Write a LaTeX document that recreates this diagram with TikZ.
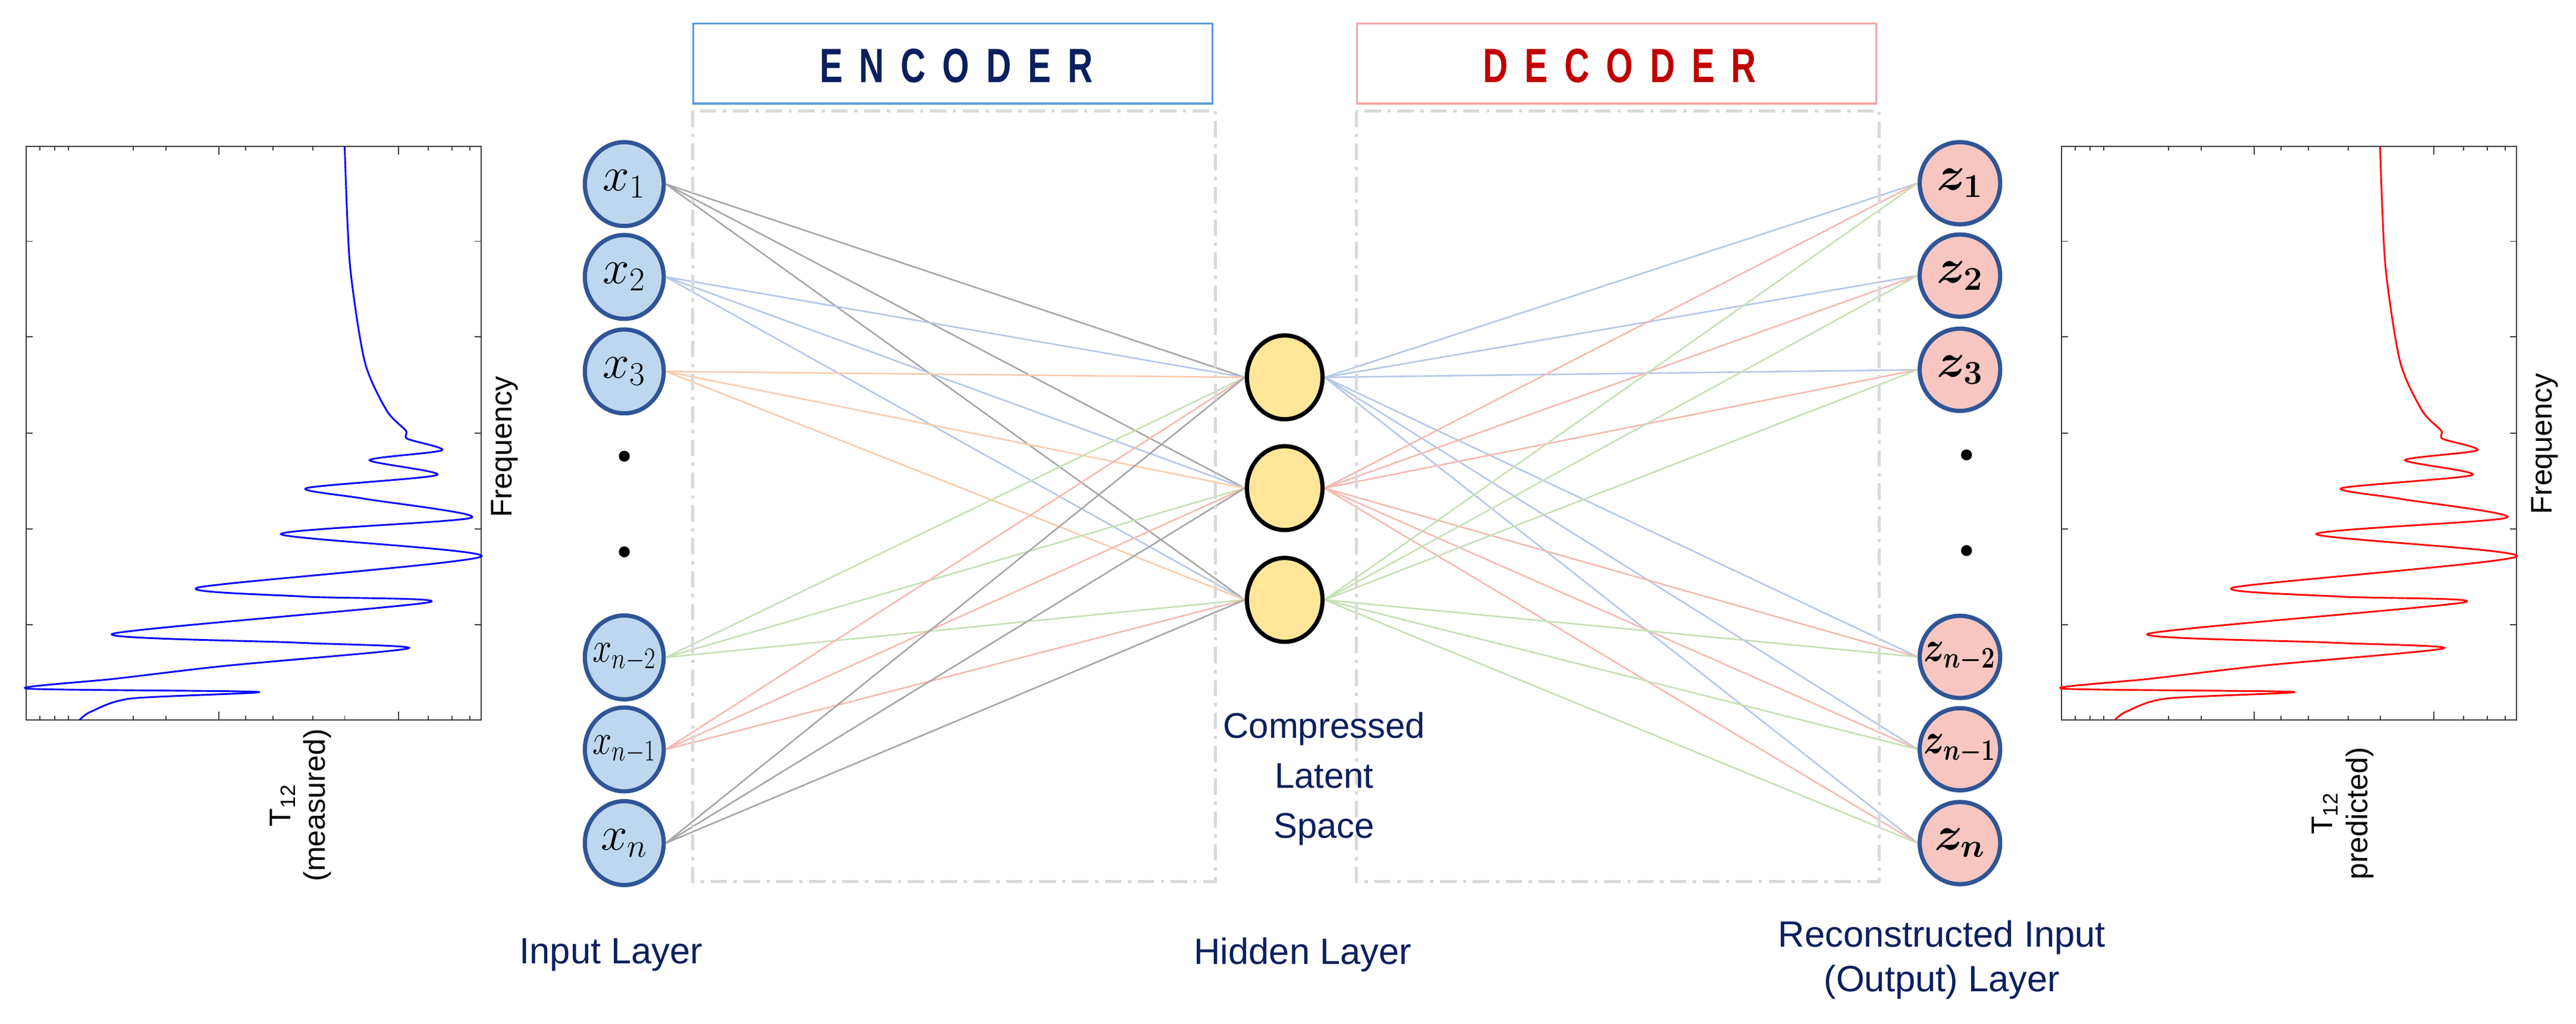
\documentclass[tikz,border=0pt]{standalone}
\usepackage{fontspec}
\usepackage{amsmath,bm}
\usetikzlibrary{shapes.geometric,backgrounds}
\setmainfont{Liberation Sans}
\newfontfamily\titlefont[LetterSpace=48]{Liberation Sans}
\definecolor{navy}{HTML}{0B1F5E}
\definecolor{nodeb}{HTML}{2F5597}
\definecolor{infill}{HTML}{BDD7EE}
\definecolor{outfill}{HTML}{F7C6C0}
\definecolor{hidfill}{HTML}{FFE699}
\definecolor{eg}{HTML}{A6A6A6}
\definecolor{eb}{HTML}{B4C7E7}
\definecolor{eo}{HTML}{F8CBAD}
\definecolor{egr}{HTML}{C5E0B4}
\definecolor{ep}{HTML}{F4B9B0}
\definecolor{boxg}{HTML}{D9D9D9}
\definecolor{encb}{HTML}{5B9BD5}
\definecolor{decb}{HTML}{F4A6A6}
\definecolor{dect}{HTML}{C00000}
\definecolor{axisc}{HTML}{404040}
\newcommand\myspectrum[1]{%
  \draw[axisc,line width=0.7pt] (15.8,89) rectangle (293,438);
  \foreach \t in {146.8,205,263.4,321.8,380}{
    \draw[axisc,line width=0.6pt] (15.8,\t) -- ++(4,0);
    \draw[axisc,line width=0.6pt] (293,\t) -- ++(-4,0);}
  \foreach \t in {24.4,33.3,41.6,81.2,101.1,149.6,166.3,190.4,209.8,260.5,275.2,286}{
    \draw[axisc,line width=0.6pt] (\t,438) -- ++(0,-2.5);
    \draw[axisc,line width=0.6pt] (\t,89) -- ++(0,2.5);}
  \foreach \t in {133.3,242.5}{
    \draw[axisc,line width=0.6pt] (\t,438) -- ++(0,-5);
    \draw[axisc,line width=0.6pt] (\t,89) -- ++(0,5);}
  \draw[#1,line width=0.9pt] plot[smooth,tension=0.45] coordinates{
    (209.8,89) (213,161) (222,220) (235.5,250) (247,262) (248,267) (269,274)
    (225,280) (266,289) (186.5,297) (222,303.5) (287,315) (171,325) (293,338.6)
    (121,357.4) (185,363) (261,366.5) (68.7,385.6) (180,391) (248.6,394.5)
    (138.5,405) (70,413) (16.6,419) (157,421) (80,425) (55.4,433) (48.5,438)};
}
\newcommand\nl[1]{\makebox[0pt]{#1}}
\newcommand\nls[1]{\makebox[0pt]{\scalebox{0.72}[0.9]{#1}}}
\begin{document}
\begin{tikzpicture}[x=0.03cm,y=-0.03cm,
  inn/.style={ellipse,draw=nodeb,line width=2.2pt,fill=infill,minimum width=1.44cm,minimum height=1.53cm,inner sep=0pt,font=\fontsize{24}{28}\selectfont},
  outn/.style={ellipse,draw=nodeb,line width=2.2pt,fill=outfill,minimum width=1.47cm,minimum height=1.5cm,inner sep=0pt,font=\fontsize{23}{28}\selectfont},
  hid/.style={ellipse,draw=black,line width=2.2pt,fill=hidfill,minimum width=1.38cm,minimum height=1.53cm,inner sep=0pt},
  dotn/.style={circle,fill=black,inner sep=0pt,minimum size=0.2cm},
  lbl/.style={text=navy,font=\fontsize{19}{23}\selectfont,align=center},
  axl/.style={font=\fontsize{15.5}{18}\selectfont,rotate=90,align=center},
  edge/.style={line width=0.8pt},
  dbox/.style={draw=boxg,line width=1.6pt,dash pattern=on 0.3cm off 0.12cm on 0.06cm off 0.12cm}]
\useasboundingbox (0,0) rectangle (1568,623);
% plots
\myspectrum{blue}
\begin{scope}[shift={(1238.9,0)}]\myspectrum{red}\end{scope}
\node[axl] (fl) at (307,272) {Frequency};
\node[axl] (fr) at (1549,270) {Frequency};
\node[axl] (tl) at (183,490) {T\textsubscript{12}\\(measured)};
\node[axl] (tr) at (1426,495) {T\textsubscript{12}\\predicted)};
% boxes
\node[draw=encb,line width=1pt,minimum width=316*0.03cm,minimum height=48.6*0.03cm] (enc) at (580,38.7) {};
\node[text=navy] (enct) at (582,40) {\scalebox{0.72}[1]{\titlefont\bfseries\fontsize{25}{25}\selectfont ENCODER}};
\node[draw=decb,line width=1pt,minimum width=316*0.03cm,minimum height=48.6*0.03cm] (dec) at (984,38.7) {};
\node[text=dect] (dect) at (986,40) {\scalebox{0.72}[1]{\titlefont\bfseries\fontsize{25}{25}\selectfont DECODER}};
\draw[dbox] (421.6,67.4) rectangle (739.7,536.5);
\draw[dbox] (825.6,67.4) rectangle (1144,536.5);
% nodes
\node[inn] (x1) at (380,112) {\nl{$x_1$}};
\node[inn] (x2) at (380,168.5) {\nl{$x_2$}};
\node[inn] (x3) at (380,226) {\nl{$x_3$}};
\node[dotn] (d1) at (380,277.6) {};
\node[dotn] (d2) at (380,335.8) {};
\node[inn] (x4) at (380,400) {\nls{$x_{n-2}$}};
\node[inn] (x5) at (380,456) {\nls{$x_{n-1}$}};
\node[inn] (x6) at (380,513) {\nl{$x_n$}};
\node[outn] (z1) at (1193,111.5) {\nl{$\bm{z_1}$}};
\node[outn] (z2) at (1193,167.7) {\nl{$\bm{z_2}$}};
\node[outn] (z3) at (1193,225) {\nl{$\bm{z_3}$}};
\node[dotn] (d3) at (1197,276.8) {};
\node[dotn] (d4) at (1197,335) {};
\node[outn] (z4) at (1193,399.7) {\nls{$\bm{z_{n-2}}$}};
\node[outn] (z5) at (1193,455.9) {\nls{$\bm{z_{n-1}}$}};
\node[outn] (z6) at (1193,513) {\nl{$\bm{z_n}$}};
\node[hid] (h1) at (782,229.6) {};
\node[hid] (h2) at (782,297) {};
\node[hid] (h3) at (782,365) {};
% edges
\begin{scope}[on background layer]
\foreach \i/\c in {1/eg,2/eb,3/eo,4/egr,5/ep,6/eg}{
  \foreach \h in {1,2,3}{
    \draw[edge,\c] (x\i.east) -- (h\h.west);}}
\foreach \h/\c in {1/eb,2/ep,3/egr}{
  \foreach \i in {1,...,6}{
    \draw[edge,\c] (h\h.east) -- (z\i.west);}}
\end{scope}
% labels
\node[lbl,font=\fontsize{18.5}{26}\selectfont] (cls) at (806,474) {Compressed\\Latent\\Space};
\node[lbl] (il) at (372,581) {Input Layer};
\node[lbl] (hl) at (793,581) {Hidden Layer};
\node[lbl] (rl) at (1182,584) {Reconstructed Input\\(Output) Layer};
\end{tikzpicture}
\end{document}
